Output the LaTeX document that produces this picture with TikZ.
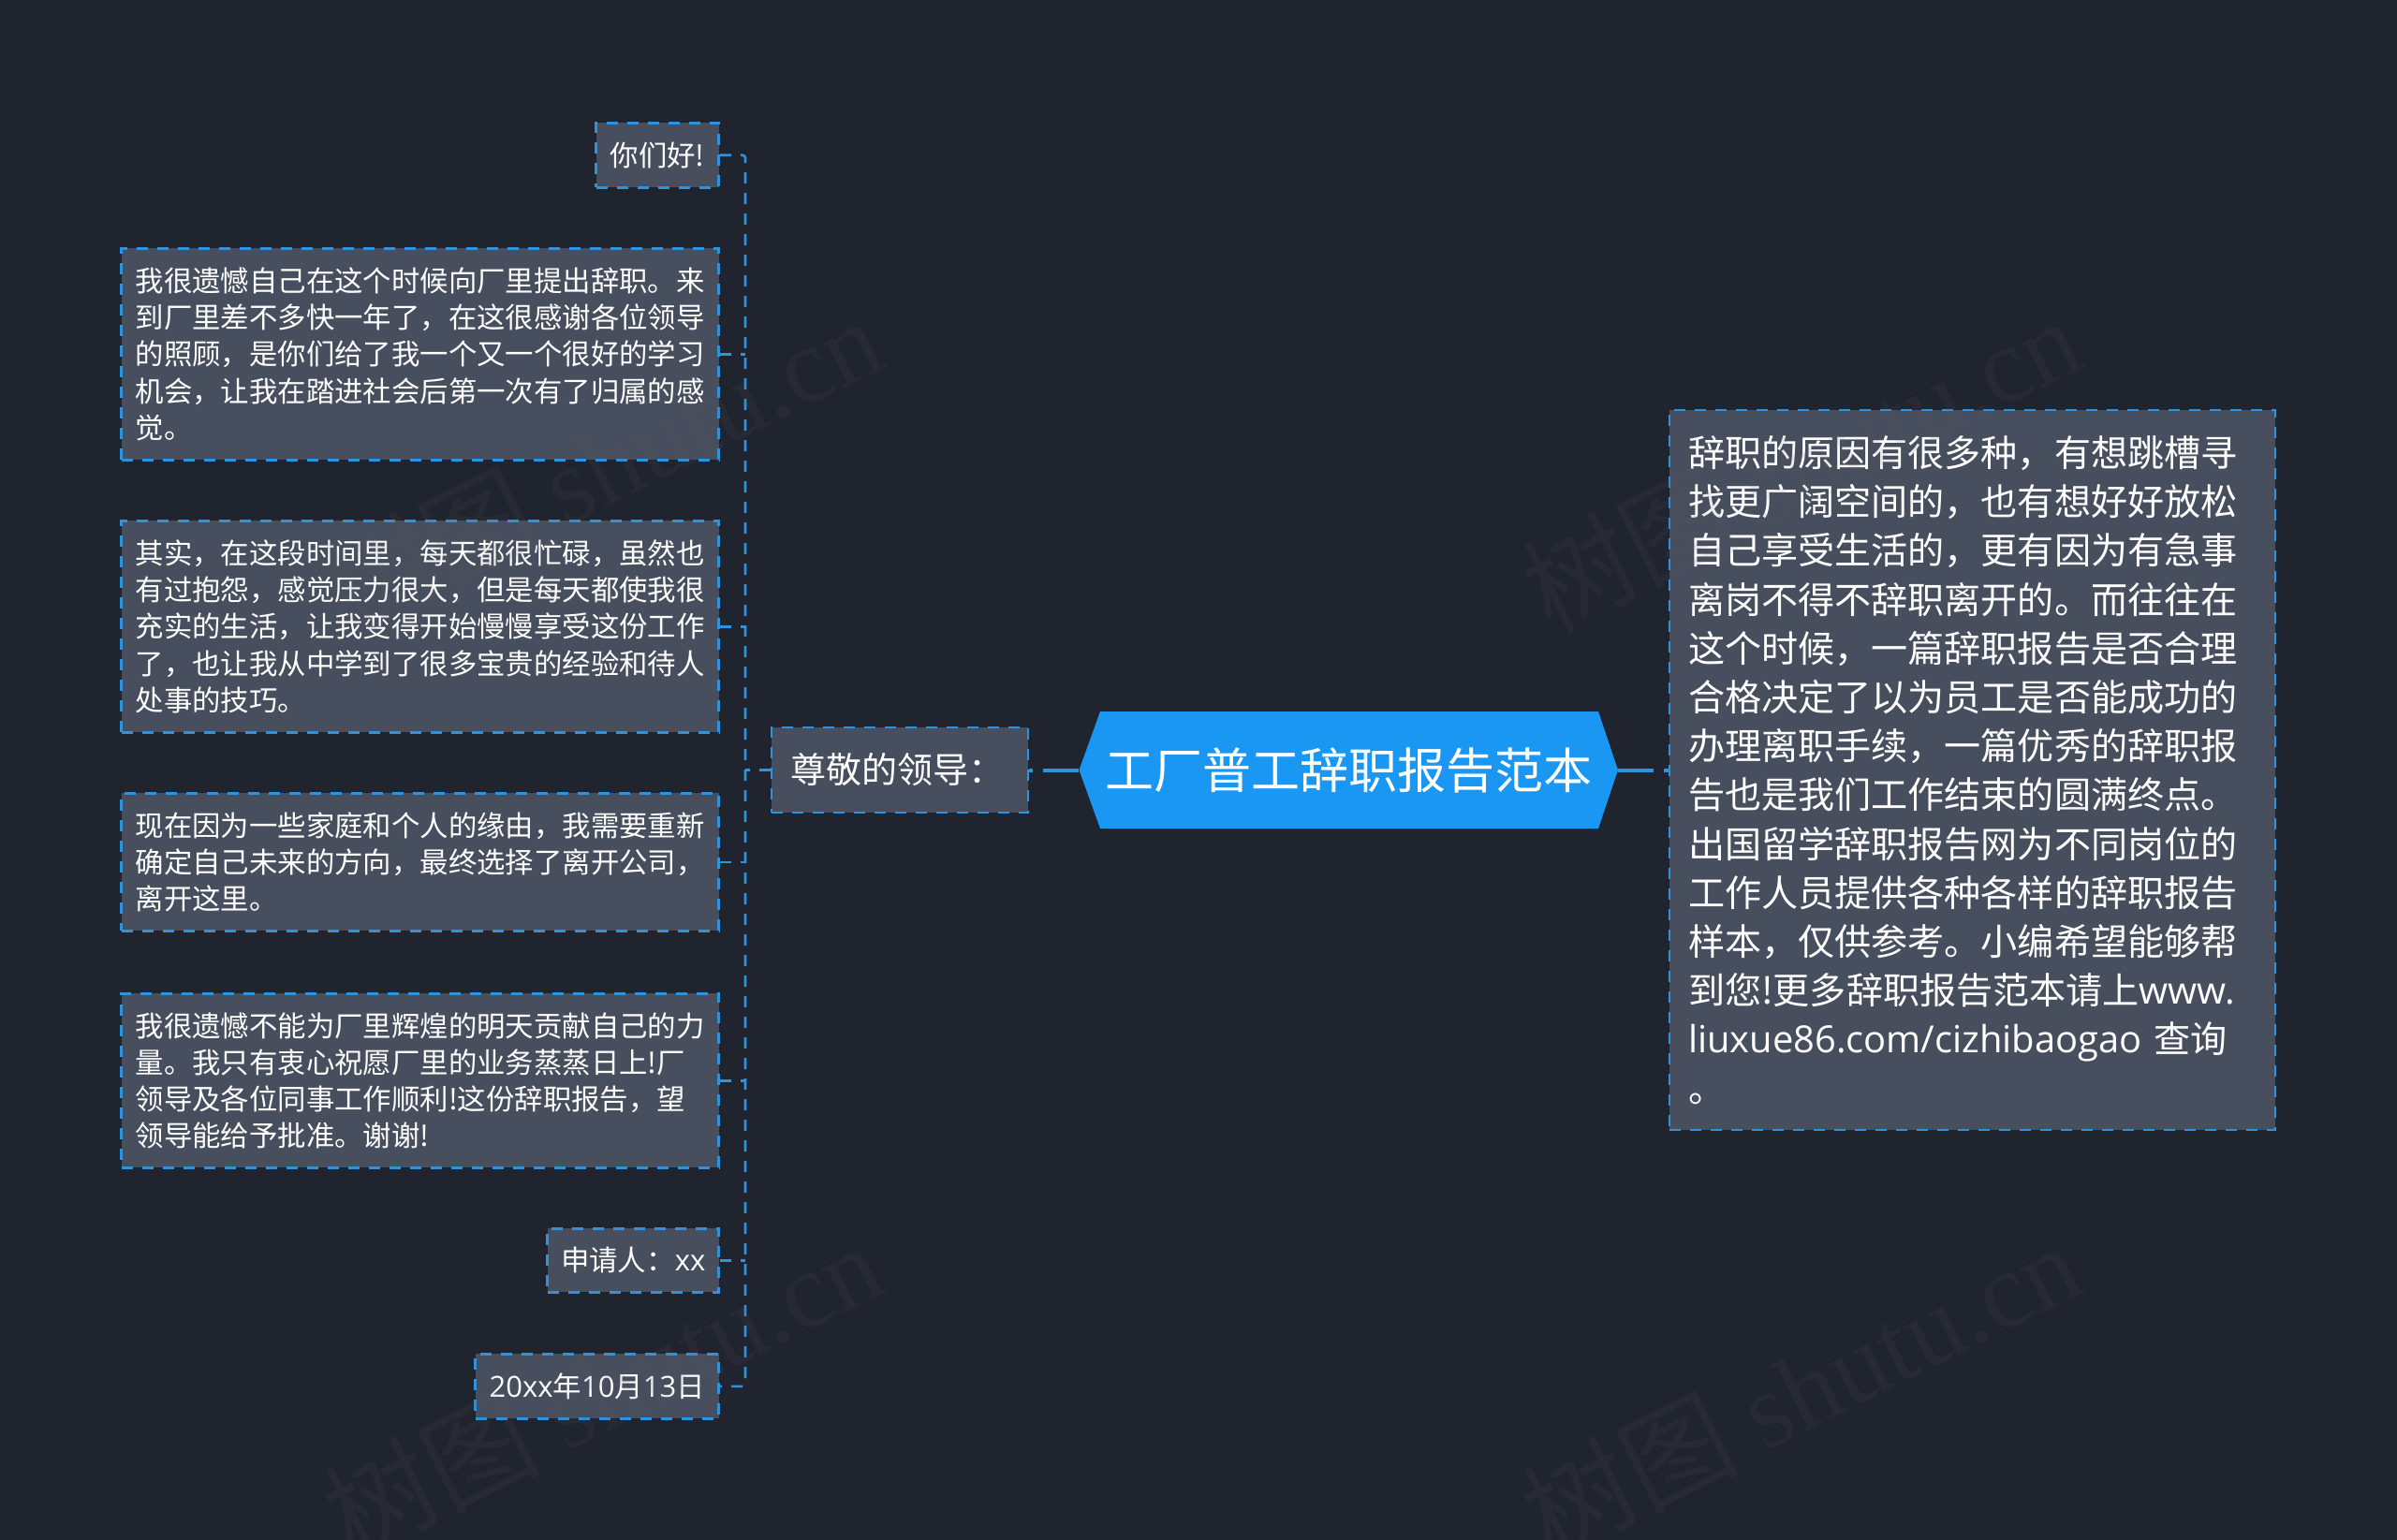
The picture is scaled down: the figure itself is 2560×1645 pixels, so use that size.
\documentclass[tikz,border=0pt]{standalone}
\usepackage{fontspec}
\setmainfont{Noto Sans CJK SC}
\newfontfamily\latinfont[Scale=1.02]{Open Sans}
\newfontfamily\markfont{Liberation Serif}
\newcommand{\zhc}{\symbol{"FF0C}}
\newcommand{\zhs}{\symbol{"FF1A}}

\definecolor{pagebg}{HTML}{20242F}
\definecolor{boxfill}{HTML}{474E5D}
\definecolor{rootblue}{HTML}{1A97F3}
\definecolor{linkblue}{HTML}{2D93DE}
\definecolor{markgray}{HTML}{5A5A5A}

\tikzset{
  leaf/.style={draw=linkblue,fill=boxfill,line width=2.6pt,dash pattern=on 12pt off 10pt,
    text=white,align=left,inner sep=0pt,anchor=north east,
    font=\fontsize{30.4pt}{39.2pt}\selectfont},
  wideleaf/.style={leaf,minimum width=638pt,text width=608pt},
  link/.style={draw=linkblue,line width=2.6pt,dash pattern=on 12pt off 10pt},
  trunk/.style={draw=linkblue,line width=4pt,dash pattern=on 38pt off 11pt}
}

\begin{document}
\begin{tikzpicture}[x=1pt,y=-1pt]
  % page
  \fill[pagebg] (0,0) rectangle (2560,1645);
  \useasboundingbox (0,0) rectangle (2560,1645);

  % centre topic
  \fill[rootblue] (1152.5,822.5) -- (1175,760) -- (1707,760) -- (1728,822.5) -- (1707,885) -- (1175,885) -- cycle;
  \node (root) [text=white,minimum width=575.5pt,inner sep=0pt,
    font=\fontsize{52pt}{60pt}\selectfont] at (1440.25,822.5) {工厂普工辞职报告范本};

  % branch on the left
  \node (salute) [leaf,anchor=center,minimum width=274pt,minimum height=91pt,text width=234pt,
    font=\fontsize{38pt}{50pt}\selectfont] at (961,822.5) {尊敬的领导\zhs};

  % text on the right
  \node (reason) [leaf,anchor=center,minimum width=647pt,minimum height=769pt,text width=607pt,
    font=\fontsize{39.1pt}{52.2pt}\selectfont] at (2106.5,822.5) {%
    辞职的原因有很多种\zhc 有想跳槽寻\\
    找更广阔空间的\zhc 也有想好好放松\\
    自己享受生活的\zhc 更有因为有急事\\
    离岗不得不辞职离开的。而往往在\\
    这个时候\zhc 一篇辞职报告是否合理\\
    合格决定了以为员工是否能成功的\\
    办理离职手续\zhc 一篇优秀的辞职报\\
    告也是我们工作结束的圆满终点。\\
    出国留学辞职报告网为不同岗位的\\
    工作人员提供各种各样的辞职报告\\
    样本\zhc 仅供参考。小编希望能够帮\\
    到您!更多辞职报告范本请上{\latinfont www.}\\
    {\latinfont liuxue86.com/cizhibaogao} 查询\\
    。};

  % leaves
  \node (hello) [leaf,minimum width=131pt,minimum height=69pt] at (769,130) {你们好!};
  \node (regret) [wideleaf,minimum height=226pt] at (769,264) {%
    我很遗憾自己在这个时候向厂里提出辞职。来\\
    到厂里差不多快一年了\zhc 在这很感谢各位领导\\
    的照顾\zhc 是你们给了我一个又一个很好的学习\\
    机会\zhc 让我在踏进社会后第一次有了归属的感\\
    觉。};
  \node (busy) [wideleaf,minimum height=226pt] at (769,555) {%
    其实\zhc 在这段时间里\zhc 每天都很忙碌\zhc 虽然也\\
    有过抱怨\zhc 感觉压力很大\zhc 但是每天都使我很\\
    充实的生活\zhc 让我变得开始慢慢享受这份工作\\
    了\zhc 也让我从中学到了很多宝贵的经验和待人\\
    处事的技巧。};
  \node (cause) [wideleaf,minimum height=147pt] at (769,846) {%
    现在因为一些家庭和个人的缘由\zhc 我需要重新\\
    确定自己未来的方向\zhc 最终选择了离开公司\zhc\\
    离开这里。};
  \node (wish) [wideleaf,minimum height=186pt] at (769,1060) {%
    我很遗憾不能为厂里辉煌的明天贡献自己的力\\
    量。我只有衷心祝愿厂里的业务蒸蒸日上!厂\\
    领导及各位同事工作顺利!这份辞职报告\zhc 望\\
    领导能给予批准。谢谢!};
  \node (sign) [leaf,minimum width=183pt,minimum height=68pt] at (769,1311) {申请人\zhs{\latinfont xx}};
  \node (date) [leaf,minimum width=260pt,minimum height=69pt] at (769,1445) {{\latinfont 20xx}年{\latinfont 10}月{\latinfont 13}日};

  % connectors
  \coordinate (spine) at (796,822.5);
  \draw[trunk] (root.east) -- (reason.west);
  \draw[trunk] (root.west) -- (salute.east);
  \draw[link] (salute.west) -- (spine);
  \draw[link,rounded corners=3pt] (hello.east) -- (hello.east -| spine) -- (date.east -| spine) -- (date.east);
  \foreach \n in {regret,busy,cause,wish,sign}
    \draw[link] (\n.east) -- (\n.east -| spine);

  % watermark
  \foreach \i/\mx/\my in {1/643/495,2/1923/495,3/643/1483,4/1923/1483}
    \node (mark\i) [rotate=26.6,text=markgray,text opacity=.12,
      font=\fontsize{115pt}{115pt}\selectfont] at (\mx,\my) {树图 {\markfont shutu.cn}};
\end{tikzpicture}
\end{document}
